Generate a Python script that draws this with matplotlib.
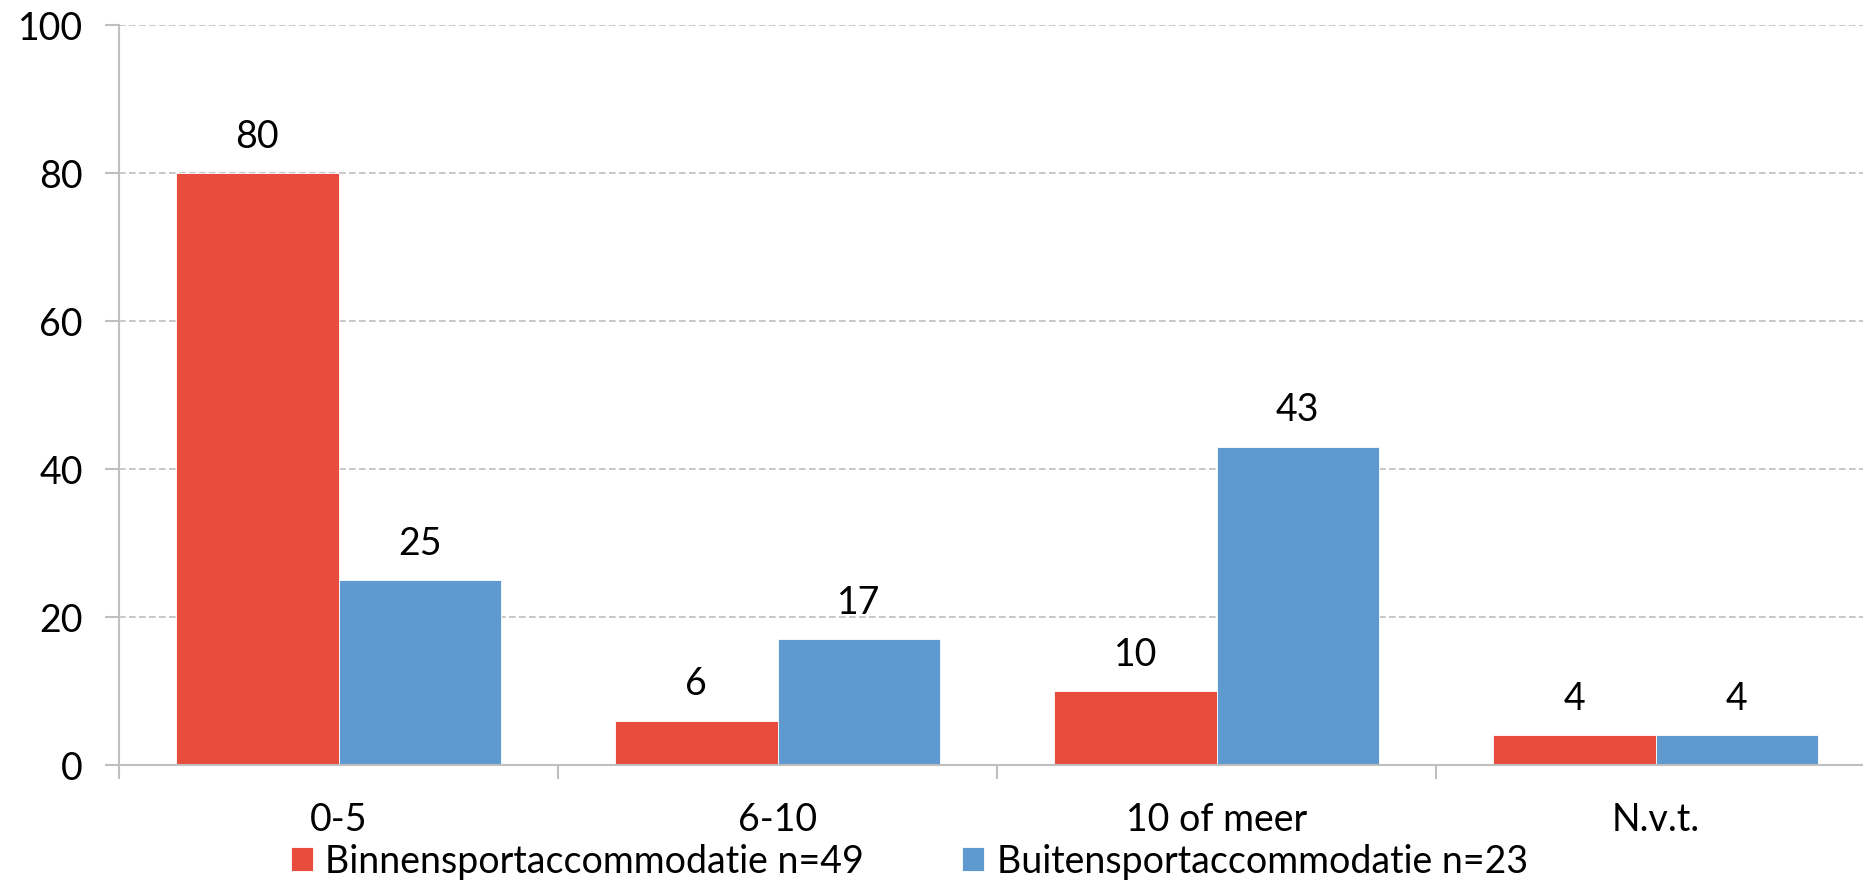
import matplotlib.pyplot as plt
import numpy as np

plt.rcParams['font.family'] = ['Lato', 'DejaVu Sans']

# Data
categories = ['0-5', '6-10', '10 of meer', 'N.v.t.']
binnen = [80, 6, 10, 4]
buiten = [25, 17, 43, 4]
series_names = ['Binnensportaccommodatie n=49', 'Buitensportaccommodatie n=23']
colors = ['#E84C3D', '#5E99CF']

fig = plt.figure(figsize=(18.63, 8.87), dpi=100)
ax = fig.add_axes([119 / 1863, 1 - 766 / 887, (1875 - 119) / 1863, (766 - 26) / 887])

x = np.arange(len(categories))
w = 0.37
b1 = ax.bar(x - w / 2, binnen, w, color=colors[0], edgecolor='white', linewidth=0.6,
            label=series_names[0], zorder=3)
b2 = ax.bar(x + w / 2, buiten, w, color=colors[1], edgecolor='white', linewidth=0.6,
            label=series_names[1], zorder=3)

for bars, vals in [(b1, binnen), (b2, buiten)]:
    for rect, v in zip(bars, vals):
        ax.annotate(str(v), (rect.get_x() + rect.get_width() / 2, rect.get_height()),
                    xytext=(0, 14), textcoords='offset points',
                    ha='center', va='bottom', fontsize=27)

ax.set_xlim(-0.5, len(categories) - 0.5)
ax.set_ylim(0, 100)
ax.set_yticks([0, 20, 40, 60, 80, 100])
ax.set_xticks(x)
ax.set_xticklabels(categories)
ax.set_xticks(np.arange(len(categories) + 1) - 0.5, minor=True)

ax.grid(axis='y', color='#bfbfbf', linestyle=(0, (4, 2)), linewidth=1.2, zorder=0)
ax.tick_params(axis='y', labelsize=27, length=10, width=1.5, color='#bfbfbf', pad=16)
ax.tick_params(axis='x', which='major', labelsize=27, length=0, pad=26)
ax.tick_params(axis='x', which='minor', length=10, width=1.5, color='#bfbfbf')

for s in ['top', 'right']:
    ax.spines[s].set_visible(False)
for s in ['left', 'bottom']:
    ax.spines[s].set_color('#bfbfbf')
    ax.spines[s].set_linewidth(1.5)
ax.spines['bottom'].set_zorder(4)

fig.legend(handles=[b1, b2], loc='lower center', bbox_to_anchor=(0.488, -0.03), ncol=2,
           frameon=False, fontsize=27, handlelength=0.6, handleheight=0.6,
           handletextpad=0.33, columnspacing=2.6)

fig.savefig('out.png', dpi=100)
